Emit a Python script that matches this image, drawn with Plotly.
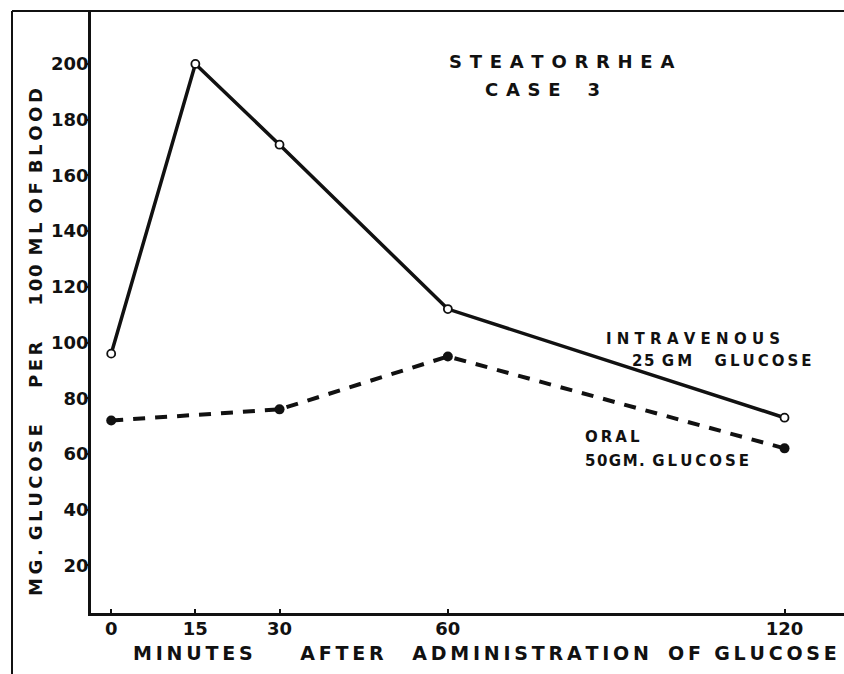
import plotly.graph_objects as go

# ---- data ----
iv_minutes = [0, 15, 30, 60, 120]
iv_glucose = [96, 200, 171, 112, 73]
oral_minutes = [0, 30, 60, 120]
oral_glucose = [72, 76, 95, 62]
x_ticks = [0, 15, 30, 60, 120]
y_ticks = [20, 40, 60, 80, 100, 120, 140, 160, 180, 200]

FONT = "DejaVu Sans"
INK = "#111111"


def spaced(s, sep="\u2009"):
    return sep.join(list(s))


fig = go.Figure()
fig.add_trace(go.Scatter(
    x=iv_minutes, y=iv_glucose, mode="lines+markers",
    line=dict(color=INK, width=3.5),
    marker=dict(symbol="circle", size=8, color="white",
                line=dict(color=INK, width=1.8)),
    showlegend=False, cliponaxis=False))
fig.add_trace(go.Scatter(
    x=oral_minutes, y=oral_glucose, mode="lines+markers",
    line=dict(color=INK, width=4, dash="12px,10px"),
    marker=dict(symbol="circle", size=10, color=INK),
    showlegend=False, cliponaxis=False))

tf = dict(family=FONT, size=18, color=INK, weight="bold")
af = dict(family=FONT, size=18, color=INK, weight="bold")
xf = dict(family=FONT, size=19, color=INK, weight="bold")
lf = dict(family=FONT, size=15, color=INK, weight="bold")

TS = "\u2004\u200a"   # title letter gap
LS = "\u2005\u200a"   # label letter gap

annotations = [
    dict(x=80.2, y=201, text=spaced("STEATORRHEA", TS), font=tf,
         showarrow=False, xanchor="center", yanchor="middle"),
    dict(x=76.8, y=191, text=spaced("CASE", TS) + "\u2003\u2002" + "3", font=tf,
         showarrow=False, xanchor="center", yanchor="middle"),
    dict(x=87.9, y=101.4, text=spaced("INTRAVENOUS", LS), font=lf,
         showarrow=False, xanchor="left", yanchor="middle"),
    dict(x=92.5, y=93.2, text=spaced("25", "\u200a") + "\u2002" + spaced("GM", "\u2009")
         + "\u2003\u2002" + spaced("GLUCOSE", "\u2009"), font=lf,
         showarrow=False, xanchor="left", yanchor="middle"),
    dict(x=84.1, y=66, text=spaced("ORAL", "\u2009"), font=lf,
         showarrow=False, xanchor="left", yanchor="middle"),
    dict(x=84.1, y=57.3, text=spaced("50GM.", "\u200a") + "\u2002" + spaced("GLUCOSE", "\u2009"),
         font=lf, showarrow=False, xanchor="left", yanchor="middle"),
    # y-axis title
    dict(xref="paper", yref="paper", x=(35 - 91) / 753, y=(613 - 342) / 602,
         text=spaced("MG.", "\u2009") + "\u2002" + spaced("GLUCOSE", "\u2009") + "\u2003\u2003"
         + spaced("PER", "\u2009") + "\u2003\u2003" + spaced("100", "\u200a") + "\u2002"
         + spaced("ML", "\u2009") + "\u2002" + spaced("OF", "\u2009") + "\u2002"
         + spaced("BLOOD", "\u2009"),
         textangle=-90, font=af, showarrow=False, xanchor="center", yanchor="middle"),
    # x-axis title
    dict(xref="paper", yref="paper", x=(485 - 91) / 753, y=(613 - 653) / 602,
         text=spaced("MINUTES", "\u2009") + "\u2003\u2003\u2002" + spaced("AFTER", "\u2009") + "\u2003\u2002"
         + spaced("ADMINISTRATION", "\u2009") + "\u2003" + spaced("OF", "\u2009") + "\u2002\u2009"
         + spaced("GLUCOSE", "\u2009"),
         font=xf, showarrow=False, xanchor="center", yanchor="middle"),
]

frame_x = (12 - 91) / 753
shapes = [
    dict(type="line", xref="paper", yref="paper", x0=frame_x, x1=1.0, y0=1.0, y1=1.0,
         line=dict(color=INK, width=2)),
    dict(type="line", xref="paper", yref="paper", x0=frame_x, x1=frame_x, y0=1.0,
         y1=(613 - 680) / 602, line=dict(color=INK, width=2)),
]

fig.update_layout(
    width=844, height=674,
    margin=dict(l=91, r=0, t=11, b=61),
    paper_bgcolor="white", plot_bgcolor="white",
    annotations=annotations, shapes=shapes,
    xaxis=dict(range=[-3.6, 130.6], tickvals=x_ticks, ticktext=[str(v) for v in x_ticks],
               showline=True, linecolor=INK, linewidth=2.5, showgrid=False, zeroline=False,
               ticks="inside", ticklen=4, tickcolor=INK, tickwidth=1.5,
               ticklabelstandoff=-2,
               tickfont=dict(family=FONT, size=18, color=INK, weight="bold")),
    yaxis=dict(range=[2.9, 219], tickvals=y_ticks, ticktext=[str(v) for v in y_ticks],
               showline=True, linecolor=INK, linewidth=2.5, showgrid=False, zeroline=False,
               ticks="outside", ticklen=3, tickcolor=INK, tickwidth=1.5,
               ticklabelstandoff=-7,
               tickfont=dict(family=FONT, size=18, color=INK, weight="bold")),
)

fig.write_html("out.html", config={"displayModeBar": False},
               post_script="document.body.style.margin='0px';document.body.style.overflow='hidden';")
